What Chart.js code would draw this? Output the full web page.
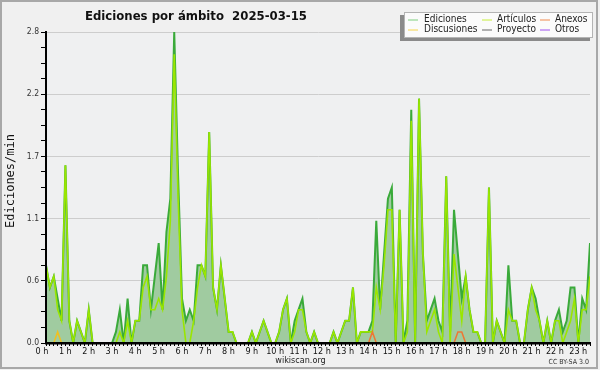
<!DOCTYPE html>
<html><head><meta charset="utf-8">
<script src="https://cdn.jsdelivr.net/npm/chart.js@4.4.1/dist/chart.umd.min.js"></script>
<style>html,body{margin:0;padding:0;background:#f0f0f0;}#wrap{width:600px;height:370px;}</style>
</head><body><div id="wrap"><canvas id="c" width="600" height="370"></canvas></div>
<script>
// ---- data (10-minute intervals from 00:00 to 23:20) ----
const hourLabels = ['0 h','1 h','2 h','3 h','4 h','5 h','6 h','7 h','8 h','9 h','10 h','11 h','12 h','13 h','14 h','15 h','16 h','17 h','18 h','19 h','20 h','21 h','22 h','23 h'];
const yTickLabels = ['0.0','0.6','1.1','1.7','2.2','2.8'];
const yMax = 2.8;
const titleText = 'Ediciones por ámbito  2025-03-15';
const yTitle = 'Ediciones/min';

const ediciones = [
0.7,0.5,0.6,0.4,0.2,1.6,0.2,0,0.2,0.1,
0,0.3,0,0,0,0,0,0,0.1,0.3,
0,0.4,0,0.2,0.2,0.7,0.7,0.3,0.6,0.9,
0.3,1.0,1.3,2.8,1.5,0.4,0.2,0.3,0.2,0.7,
0.7,0.6,1.9,0.5,0.3,0.7,0.4,0.1,0.1,0,
0,0,0,0.1,0,0.1,0.2,0.1,0,0,
0.1,0.3,0.4,0,0.2,0.3,0.4,0.1,0,0.1,
0,0,0,0,0.1,0,0.1,0.2,0.2,0.5,
0,0.1,0.1,0.1,0.2,1.1,0.3,0.8,1.3,1.4,
0,1.2,0,0.2,2.1,0,2.2,0.8,0.2,0.3,
0.4,0.2,0.1,1.5,0.1,1.2,0.8,0.4,0.6,0.3,
0.1,0.1,0,0,1.4,0,0.2,0.1,0,0.7,
0.2,0.2,0,0,0.3,0.5,0.4,0.2,0,0.2,
0,0.2,0.3,0.1,0.2,0.5,0.5,0,0.4,0.3,
0.9];
const articulos = [
0.7,0.5,0.6,0.3,0.2,1.6,0.2,0,0.2,0.1,
0,0.3,0,0,0,0,0,0,0,0.1,
0,0.2,0,0.2,0.2,0.5,0.6,0.3,0.3,0.4,
0.3,0.6,1.1,2.6,1.3,0.3,0,0,0.2,0.5,
0.7,0.6,1.9,0.5,0.3,0.7,0.4,0.1,0.1,0,
0,0,0,0.1,0,0.1,0.2,0.1,0,0,
0.1,0.3,0.4,0,0.1,0.3,0.3,0.1,0,0.1,
0,0,0,0,0.1,0,0.1,0.2,0.2,0.5,
0,0.1,0.1,0.1,0.1,0.5,0.3,0.7,1.2,1.2,
0,1.2,0,0.1,2.0,0,2.2,0.8,0.1,0.2,
0.3,0.1,0,1.5,0,0.8,0.5,0.2,0.6,0.3,
0.1,0.1,0,0,1.4,0,0.2,0.1,0,0.3,
0.2,0.2,0,0,0.3,0.5,0.3,0.2,0,0.2,
0,0.2,0.2,0,0.1,0.2,0.4,0,0.3,0.3,
0.6];
const anexos = [
0,0,0,0,0,0,0,0,0,0, 0,0,0,0,0,0,0,0,0,0,
0,0,0,0,0,0,0,0,0,0, 0,0,0,0,0,0,0,0,0,0,
0,0,0,0,0,0,0,0,0,0, 0,0,0,0,0,0,0,0,0,0,
0,0,0,0,0,0,0,0,0,0, 0,0,0,0,0,0,0,0,0,0,
0,0,0,0,0.1,0,0,0,0,0, 0,0,0,0,0,0,0,0,0,0,
0,0,0,0,0,0,0.1,0.1,0,0, 0,0,0,0,0,0,0,0,0,0,
0,0,0,0,0,0,0,0,0,0, 0,0,0,0,0,0,0,0,0,0,
0];
const discusiones = [
0,0,0,0.1,0,0,0,0,0,0, 0,0,0,0,0,0,0,0,0,0,
0,0,0,0,0,0,0,0,0,0, 0,0,0,0,0,0,0,0,0,0,
0,0,0,0,0,0,0,0,0,0, 0,0,0,0,0,0,0,0,0,0,
0,0,0,0,0,0,0,0,0,0, 0,0,0,0,0,0,0,0,0,0,
0,0,0,0,0,0,0,0,0,0, 0,0,0,0,0,0,0,0,0,0,
0,0,0,0,0,0,0,0,0,0, 0,0,0,0,0,0,0,0,0,0,
0,0,0,0,0,0,0,0,0,0, 0,0,0,0,0,0,0,0,0,0,
0];
const proyecto = [
0,0,0,0,0,0,0,0,0,0, 0,0,0,0,0,0,0,0,0,0,
0,0,0,0,0,0,0,0,0,0, 0,0,0,0,0,0,0,0,0,0,
0,0,0,0,0,0,0,0,0,0, 0,0,0,0,0,0,0,0,0,0,
0,0,0,0,0,0,0,0,0,0, 0,0,0,0,0,0,0,0,0,0,
0,0,0,0,0,0,0,0,0,0, 0,0,0,0,0,0,0,0,0,0,
0,0,0,0,0,0,0,0,0,0, 0,0,0,0,0,0,0,0,0,0,
0,0,0,0,0,0,0,0,0,0, 0,0,0,0,0,0,0,0,0,0,
0];
const otros = [
0,0,0,0,0,0,0,0,0,0, 0,0,0,0,0,0,0,0,0,0,
0,0,0,0,0,0,0,0,0,0, 0,0,0,0,0,0,0,0,0,0,
0,0,0,0,0,0,0,0,0,0, 0,0,0,0,0,0,0,0,0,0,
0,0,0,0,0,0,0,0,0,0, 0,0,0,0,0,0,0,0,0,0,
0,0,0,0,0,0,0,0,0,0, 0,0,0,0,0,0,0,0,0,0,
0,0,0,0,0,0,0,0,0,0, 0,0,0,0,0,0,0,0,0,0,
0,0,0,0,0,0,0,0,0,0, 0,0,0,0,0,0,0,0,0,0,
0];

const COND = '"DejaVu Sans Condensed", "DejaVu Sans", sans-serif';
const pts = arr => arr.map((v, i) => ({x: i, y: v}));
const lastIdx = ediciones.length - 1;

const ds = (label, data, color, legendColor, width, order, extra) => Object.assign({
  label, data: pts(data), borderColor: color, legendColor, borderWidth: width,
  pointRadius: 0, tension: 0, fill: false, order
}, extra || {});

const datasets = [
  ds('Ediciones', ediciones, '#3aaa3a', '#7fcf7f', 2, 10, {fill: 'origin', backgroundColor: '#a0cba0'}),
  ds('Artículos', articulos, '#9ae600', '#c6ee3a', 1.6, 5),
  ds('Anexos', anexos, '#ee7733', '#f08a4e', 1.5, 1),
  ds('Discusiones', discusiones, '#f0c020', '#f6d44a', 1.5, 1),
  ds('Proyecto', proyecto, '#555555', '#666666', 1.5, 2),
  ds('Otros', otros, '#9040f0', '#a050f0', 1.5, 2)
];

const decor = {
  id: 'decor',
  beforeDraw(chart) {
    const c = chart.ctx;
    c.save();
    c.fillStyle = '#f0f0f0';
    c.fillRect(0, 0, chart.width, chart.height);
    const a = chart.chartArea;
    c.fillStyle = '#eff0f1';
    c.fillRect(a.left, a.top, a.right - a.left, a.bottom - a.top);
    c.restore();
  },
  afterDatasetsDraw(chart) {
    const c = chart.ctx, a = chart.chartArea;
    c.save();
    c.fillStyle = '#000';
    c.fillRect(a.left - 1, a.top, 2, a.bottom - a.top + 1);
    c.fillRect(a.left - 1, a.bottom - 1, a.right - a.left + 1, 2.5);
    c.restore();
  },
  afterDraw(chart) {
    const c = chart.ctx;
    c.save();
    // frame
    c.strokeStyle = '#a8a8a8';
    c.lineWidth = 2;
    c.strokeRect(1, 1, 596, 367);
    // title
    c.fillStyle = '#111';
    c.font = 'bold 13px ' + COND;
    c.textBaseline = 'alphabetic';
    c.textAlign = 'left';
    c.fillText(titleText, 85, 20);
    // y title
    c.save();
    c.translate(14, 181);
    c.rotate(-Math.PI / 2);
    c.font = '12px "DejaVu Sans Mono", monospace';
    c.textAlign = 'center';
    c.textBaseline = 'alphabetic';
    c.fillText(yTitle, 0, 0);
    c.restore();
    // footer
    c.font = '9px ' + COND;
    c.textAlign = 'center';
    c.textBaseline = 'middle';
    c.fillStyle = '#222';
    c.fillText('wikiscan.org', 300.5, 361);
    c.font = '7px ' + COND;
    c.textAlign = 'right';
    c.fillStyle = '#333';
    c.fillText('CC BY-SA 3.0', 589, 362);
    // legend box
    c.fillStyle = '#8a8a8a';
    c.fillRect(400, 15, 190, 26);
    c.fillStyle = '#fbfbfb';
    c.fillRect(404, 12, 189, 26);
    c.strokeStyle = '#b4b4b4';
    c.lineWidth = 1;
    c.strokeRect(404.5, 12.5, 188, 25);
    const order = [0, 1, 2, 3, 4, 5];
    const lineX = [408, 482, 540];
    const textX = [424, 497, 555];
    const rowY = [19.5, 29.5];
    c.font = '10px ' + COND;
    c.textAlign = 'left';
    c.textBaseline = 'middle';
    order.forEach((di, k) => {
      const d = chart.data.datasets[di];
      const col = k % 3, row = Math.floor(k / 3);
      c.strokeStyle = d.legendColor;
      c.beginPath();
      c.moveTo(lineX[col], rowY[row] + 0.5);
      c.lineTo(lineX[col] + 10, rowY[row] + 0.5);
      c.stroke();
      c.fillStyle = '#222';
      c.fillText(d.label, textX[col], rowY[row]);
    });
    c.restore();
  }
};

new Chart(document.getElementById('c'), {
  type: 'line',
  data: {datasets},
  options: {
    responsive: false, animation: false, events: [],
    devicePixelRatio: 1,
    layout: {padding: {left: 0, right: 10, top: 32, bottom: 0}},
    plugins: {legend: {display: false}, tooltip: {enabled: false}, title: {display: false}},
    scales: {
      x: {
        type: 'linear', min: 0, max: lastIdx, z: 1,
        border: {color: '#000', width: 2},
        grid: {drawOnChartArea: false, tickLength: 3, tickColor: '#000', tickWidth: 1},
        ticks: {
          autoSkip: false, maxRotation: 0, minRotation: 0, padding: 0, labelOffset: -4,
          font: {family: COND, size: 9}, color: '#111',
          callback: v => (v % 6 === 0 && hourLabels[v / 6]) ? hourLabels[v / 6] : ''
        },
        afterBuildTicks: s => { s.ticks = ediciones.map((_, i) => ({value: i})); },
        afterFit: s => { s.height = 27; }
      },
      y: {
        min: 0, max: yMax,
        border: {color: '#000', width: 2},
        grid: {
          color: ctx => (ctx.index % 4 === 0 ? '#cdcdcd' : 'rgba(0,0,0,0)'),
          tickColor: '#000', tickLength: 5, lineWidth: 1
        },
        ticks: {
          autoSkip: false, padding: 2, font: {family: COND, size: 8.5}, color: '#333',
          callback: (v, i) => (i % 4 === 0 ? yTickLabels[i / 4] : '')
        },
        afterBuildTicks: s => { s.ticks = Array.from({length: 21}, (_, k) => ({value: yMax * k / 20})); },
        afterFit: s => { s.width = 46; }
      }
    }
  },
  plugins: [decor]
});
</script>
</body></html>
